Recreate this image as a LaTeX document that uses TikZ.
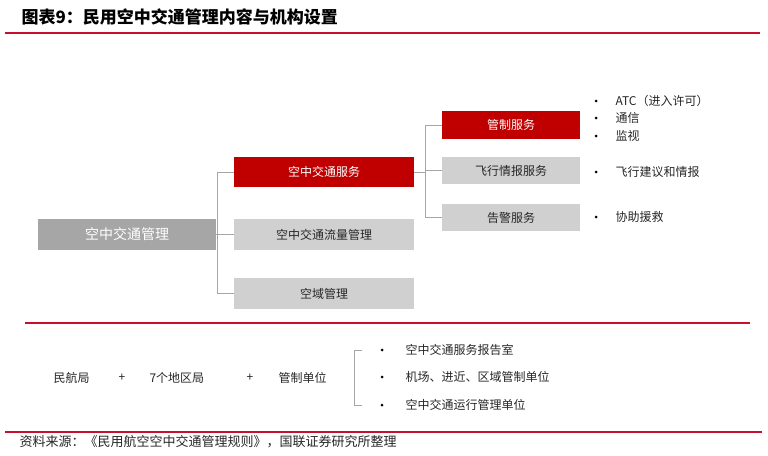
\documentclass[tikz,border=0pt]{standalone}
\usepackage{fontspec}
\setmainfont{Noto Sans CJK SC}
\definecolor{myred}{HTML}{C00000}
\definecolor{dgray}{HTML}{A6A6A6}
\definecolor{lgray}{HTML}{D0D0D0}
\definecolor{lnred}{HTML}{C8102E}
\begin{document}
\begin{tikzpicture}[x=1pt,y=-1pt,
  redbox/.style={fill=myred,text=white,font=\fontsize{12}{14}\selectfont},
  lgbox/.style={fill=lgray,text=black!85,font=\fontsize{12}{14}\selectfont},
  conn/.style={draw=gray!70,line width=0.6pt},
  redline/.style={draw=lnred,line width=1.2pt},
  txt/.style={font=\fontsize{12}{14}\selectfont,anchor=west,text=black!85}]
\useasboundingbox (0,0) rectangle (768,455);
\node[anchor=west,font=\bfseries\fontsize{17}{19}\selectfont] (title) at (18,17) {图表9：民用空中交通管理内容与机构设置};
\draw[redline] (5,33) -- (760,33);
% boxes
\path[fill=dgray] (38,219) rectangle (216,250);
\node[text=white,font=\fontsize{14}{16}\selectfont] (atm) at (127,234.5) {空中交通管理};
\coordinate (atmR) at (216,234.5);
\node[redbox,minimum width=180pt,minimum height=30pt] (ats) at (324,172) {空中交通服务};
\node[lgbox,minimum width=180pt,minimum height=31pt] (atfm) at (324,234.5) {空中交通流量管理};
\node[lgbox,minimum width=180pt,minimum height=31pt] (asm) at (324,293.5) {空域管理};
\node[redbox,minimum width=138pt,minimum height=28pt] (ctl) at (511,125) {管制服务};
\node[lgbox,minimum width=138pt,minimum height=27pt] (fis) at (511,170.5) {飞行情报服务};
\node[lgbox,minimum width=138pt,minimum height=27pt] (alr) at (511,217.5) {告警服务};
% connectors
\draw[conn] (atmR) -- (217,234.5);
\draw[conn] (ats.west) -| (217,293.5) -- (asm.west);
\draw[conn] (217,234.5) -- (atfm.west);
\draw[conn] (ats.east) -- (425,172);
\draw[conn] (ctl.west) -| (425,217.5) -- (alr.west);
\draw[conn] (425,170.5) -- (fis.west);
% bullets
\foreach \y/\t/\n in {101/ATC（进入许可）/b1,118/通信/b2,136/监视/b3,172/飞行建议和情报/b4,217/协助援救/b5}{
  \fill (596,\y) circle (1.5pt);
  \node[txt] (\n) at (612,\y) {\t};
}
\draw[redline] (25,323) -- (750,323);
% bottom
\node[txt] (caac) at (50,378) {民航局};
\node[txt] (p1) at (115,378) {+};
\node[txt] (reg) at (146,378) {7个地区局};
\node[txt] (p2) at (243,378) {+};
\node[txt] (unit) at (275,378) {管制单位};
\draw[conn] (362,350) -- (354,350) -- (354,405) -- (362,405);
\foreach \y/\t/\n in {350/空中交通服务报告室/c1,377/机场、进近、区域管制单位/c2,405/空中交通运行管理单位/c3}{
  \fill (382,\y) circle (1.5pt);
  \node[txt] (\n) at (402,\y) {\t};
}
\draw[redline] (5,432) -- (762,432);
\node[txt,font=\fontsize{13}{15}\selectfont] (src) at (16,442) {资料来源：《民用航空空中交通管理规则》，国联证券研究所整理};
\end{tikzpicture}
\end{document}
